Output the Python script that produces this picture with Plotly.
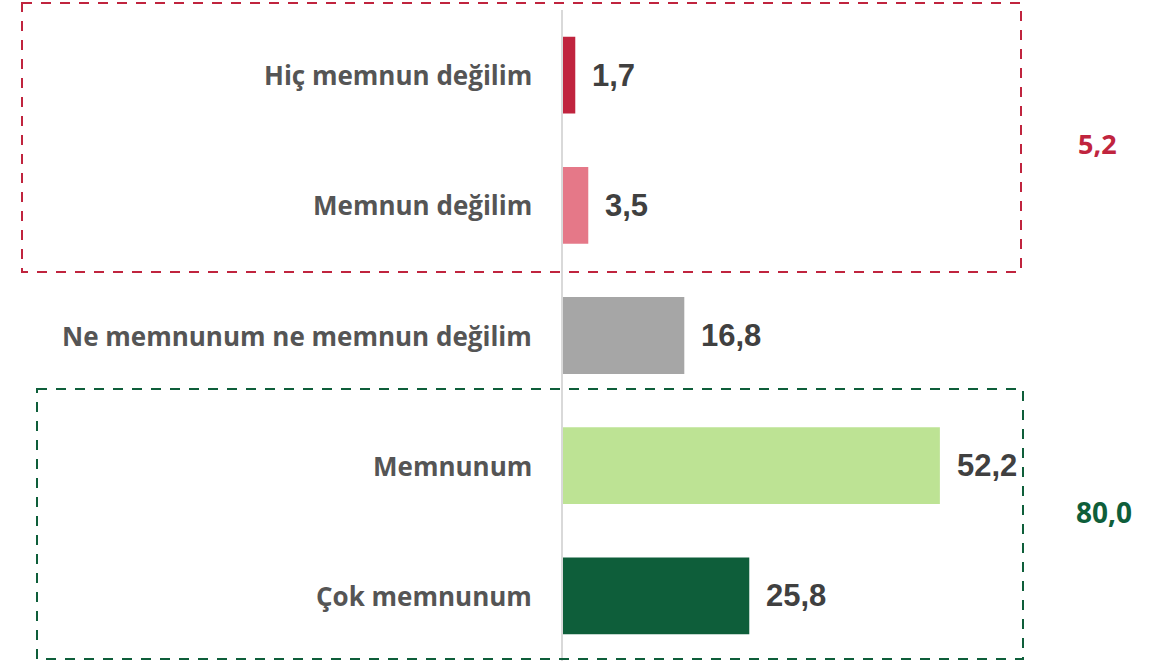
import plotly.graph_objects as go

categories = ["Hiç memnun değilim", "Memnun değilim", "Ne memnunum ne memnun değilim", "Memnunum", "Çok memnunum"]
values = [1.7, 3.5, 16.8, 52.2, 25.8]
value_labels = ["1,7", "3,5", "16,8", "52,2", "25,8"]
bar_colors = ["#C0243E", "#E57888", "#A6A6A6", "#BDE394", "#0E5E3A"]
group_labels = ["5,2", "80,0"]
group_colors = ["#C0243E", "#0E5E3A"]

W, H = 1165, 662
L, T = 563, 10
plot_w, plot_h = W - L, 651

def px(x):
    return (x - L) / plot_w

def py(y):
    return 1 - (y - T) / plot_h

fig = go.Figure()
fig.add_trace(go.Bar(
    y=categories, x=values, orientation="h",
    marker=dict(color=bar_colors, line=dict(width=0)),
    width=0.59, hoverinfo="skip",
))

annotations = []
for c, v, t in zip(categories, values, value_labels):
    annotations.append(dict(x=v, y=c, xref="x", yref="y", text="<b>" + t + "</b>", showarrow=False,
                            xanchor="left", yanchor="middle", xshift=15,
                            font=dict(family="Liberation Sans", size=31, color="#404040")))
    annotations.append(dict(x=0, y=c, xref="paper", yref="y", text="<b>" + c + "</b>", showarrow=False,
                            xanchor="right", yanchor="middle", xshift=-29,
                            font=dict(family="Open Sans", size=26, color="#555555")))

annotations.append(dict(x=px(1097), y=py(143), xref="paper", yref="paper", text="<b>" + group_labels[0] + "</b>",
                        xanchor="center", yanchor="middle",
                        showarrow=False, font=dict(family="Open Sans", size=27, color=group_colors[0])))
annotations.append(dict(x=px(1104), y=py(512), xref="paper", yref="paper", text="<b>" + group_labels[1] + "</b>",
                        xanchor="center", yanchor="middle",
                        showarrow=False, font=dict(family="Open Sans", size=28, color=group_colors[1])))

shapes = [
    dict(type="rect", xref="paper", yref="paper", x0=px(22), x1=px(1021), y0=py(3), y1=py(272),
         line=dict(color=group_colors[0], width=2, dash="10px,9px"), fillcolor="rgba(0,0,0,0)", layer="above"),
    dict(type="rect", xref="paper", yref="paper", x0=px(37), x1=px(1023), y0=py(389), y1=py(659),
         line=dict(color=group_colors[1], width=2, dash="10px,9px"), fillcolor="rgba(0,0,0,0)", layer="above"),
]

fig.update_layout(
    width=W, height=H,
    margin=dict(l=L, r=0, t=T, b=H - T - plot_h),
    paper_bgcolor="white", plot_bgcolor="white",
    showlegend=False,
    xaxis=dict(range=[0, plot_w / 7.22], visible=False, fixedrange=True),
    yaxis=dict(autorange="reversed", showticklabels=False, ticks="", showgrid=False,
               showline=True, linecolor="#D9D9D9", linewidth=2, zeroline=False, fixedrange=True),
    annotations=annotations,
    shapes=shapes,
)

fig.write_html("out.html", config={"displayModeBar": False},
               post_script="document.body.style.margin='0';document.body.style.padding='0';")
